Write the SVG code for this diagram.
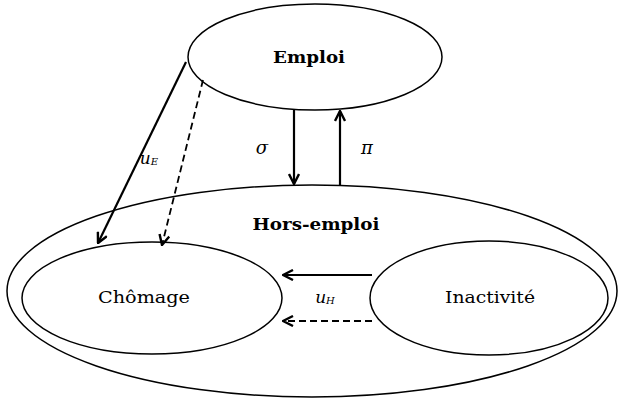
<svg xmlns="http://www.w3.org/2000/svg" width="620" height="399" viewBox="0 0 620 399">
<style>
.n{fill:#fff;stroke:#000;stroke-width:1.5}
.o{fill:none;stroke:#000;stroke-width:1.5}
.t{font-family:"DejaVu Serif","Liberation Serif",serif;font-size:16px;fill:#000;text-anchor:middle}
.b{font-weight:bold;font-size:17px}
.m{font-family:"DejaVu Serif","Liberation Serif",serif;font-style:italic;fill:#000;text-anchor:middle}
.c{fill:none;stroke:#000;stroke-width:2.2}
.d{stroke-dasharray:7,4}
.c2{fill:none;stroke:#000;stroke-width:1.8}
</style>
<defs>
<marker id="ah" viewBox="0 0 12 12" refX="11" refY="6" markerWidth="12" markerHeight="12" markerUnits="userSpaceOnUse" orient="auto">
<path d="M1,1 L11,6 L1,11" fill="none" stroke="#000" stroke-width="2.4"/>
</marker>
</defs>
<g id="hors-emploi">
<ellipse class="o" cx="312" cy="291" rx="305" ry="106"/>
<text class="t b" x="316" y="230" textLength="127" lengthAdjust="spacingAndGlyphs">Hors-emploi</text>
</g>
<g id="emploi">
<ellipse class="n" cx="315" cy="57" rx="127" ry="53"/>
<text class="t b" x="309" y="63" textLength="72" lengthAdjust="spacingAndGlyphs">Emploi</text>
</g>
<g id="chomage">
<ellipse class="n" cx="152" cy="298" rx="130" ry="56"/>
<text class="t" x="144" y="303" textLength="92" lengthAdjust="spacingAndGlyphs">Chômage</text>
</g>
<g id="inactivite">
<ellipse class="n" cx="489" cy="298" rx="119" ry="57"/>
<text class="t" x="490" y="303" textLength="90" lengthAdjust="spacingAndGlyphs">Inactivité</text>
</g>
<g id="connectors">
<line class="c" x1="294" y1="110" x2="294" y2="184" marker-end="url(#ah)"/>
<line class="c" x1="340" y1="185" x2="340" y2="111" marker-end="url(#ah)"/>
<line class="c" x1="186" y1="62" x2="98" y2="243" marker-end="url(#ah)"/>
<line class="c2 d" x1="203" y1="80" x2="162" y2="245" marker-end="url(#ah)"/>
<line class="c" x1="372" y1="275" x2="283" y2="275" marker-end="url(#ah)"/>
<line class="c d" x1="372" y1="321" x2="283" y2="321" marker-end="url(#ah)"/>
</g>
<g id="labels">
<text class="m" x="262" y="154" font-size="18">σ</text>
<text class="m" x="367" y="154" font-size="18">π</text>
<text class="m" x="149" y="164" font-size="17">u<tspan font-size="10" dy="1">E</tspan></text>
<text class="m" x="325" y="303" font-size="17">u<tspan font-size="10" dy="1">H</tspan></text>
</g>
</svg>
